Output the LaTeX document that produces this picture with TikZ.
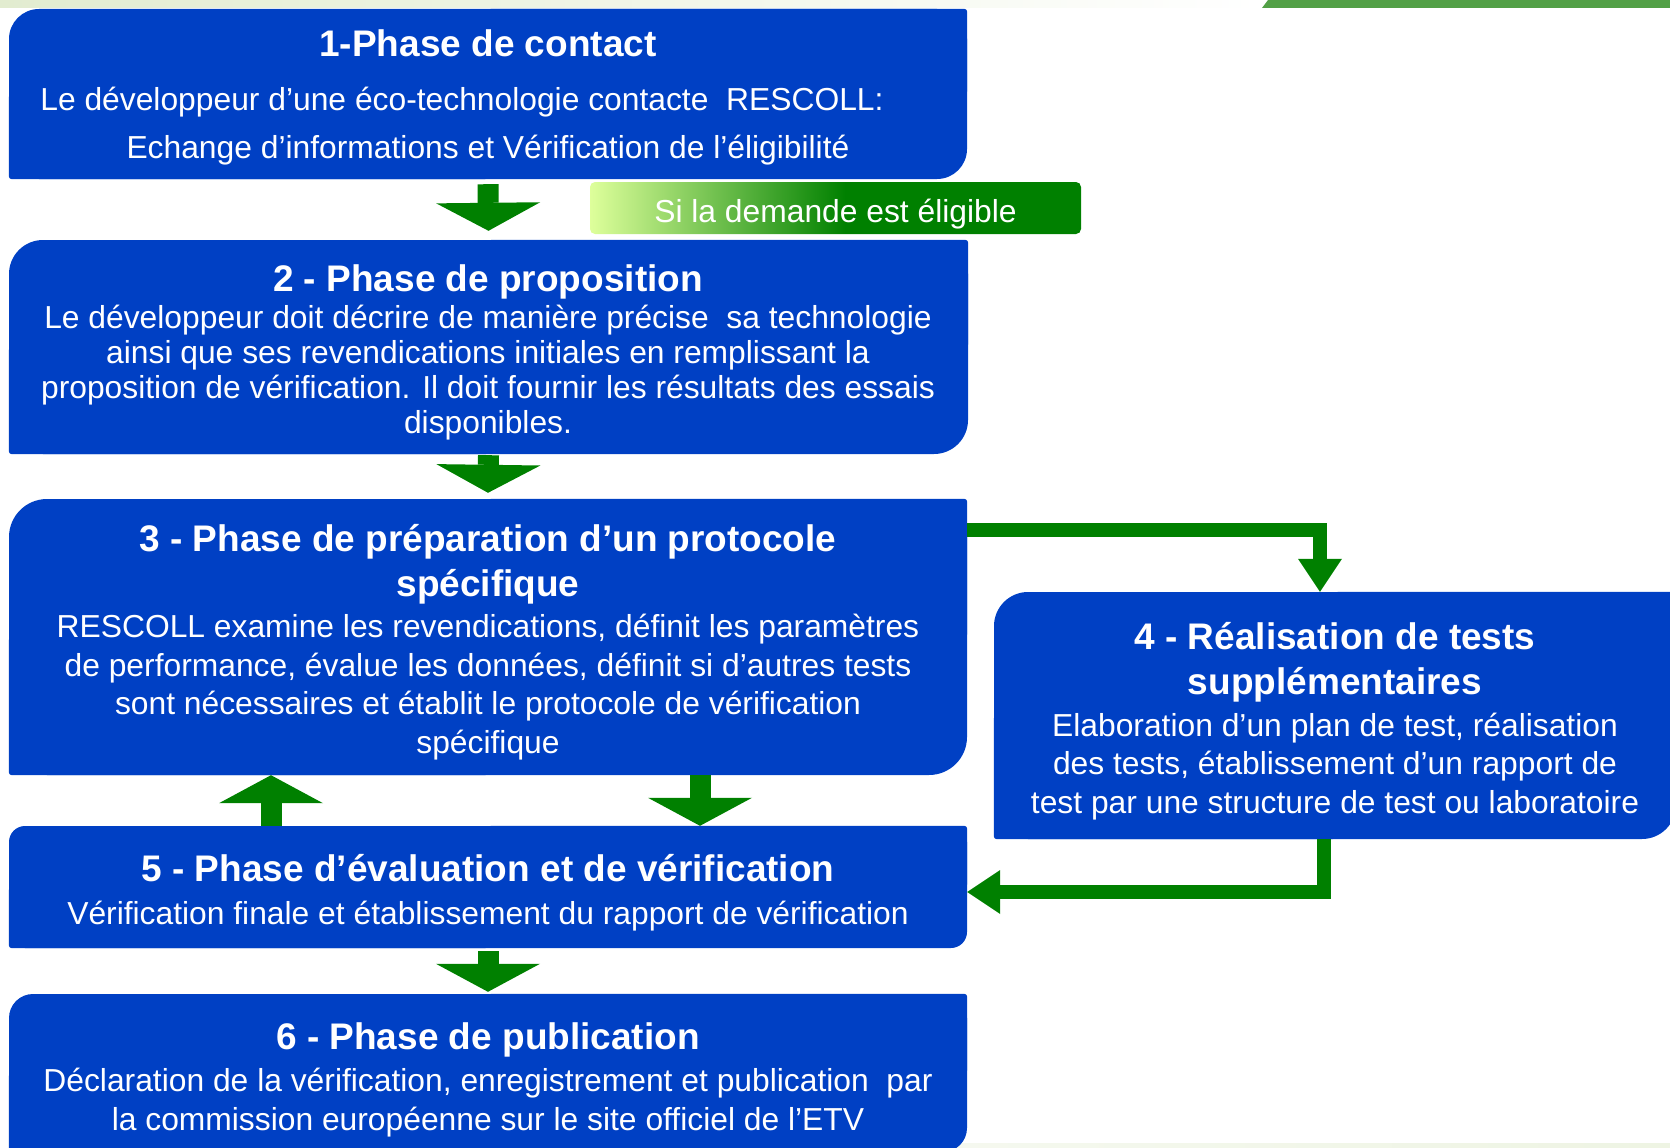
\documentclass[tikz,border=0pt]{standalone}
\usepackage{fontspec}
\setmainfont{Liberation Sans}
\definecolor{etvblue}{RGB}{0,64,196}
\definecolor{etvgreen}{RGB}{0,128,0}
\definecolor{etvlight}{RGB}{222,255,155}
\definecolor{bandlight}{RGB}{226,236,208}
\definecolor{banddark}{RGB}{82,160,70}
\usetikzlibrary{arrows.meta}
\pgfdeclarehorizontalshading{eligshade}{100bp}{color(0bp)=(etvlight); color(25bp)=(etvlight); color(51bp)=(etvgreen); color(100bp)=(etvgreen)}
\newcommand{\phtitle}[1]{{\bfseries\fontsize{37}{45}\selectfont #1}}

\begin{document}
\begin{tikzpicture}[x=1pt,y=-1pt,
    phase/.style={fill=etvblue, inner sep=0pt},
    txt/.style={text=white, align=center, inner sep=0pt, font=\fontsize{31.8}{38.5}\selectfont},
    elig/.style={shade, shading=eligshade, rounded corners=5pt, inner sep=0pt,
      minimum width=491pt, minimum height=52pt, text height=33pt, text depth=5pt,
      text=white, font=\fontsize{31.8}{38.5}\selectfont},
    blk/.style={etvgreen, line width=21pt, -{Triangle[width=104pt,length=28pt,line width=0pt]}},
    conn/.style={etvgreen, line width=13.5pt, -{Triangle[width=44pt,length=33pt,line width=0pt]}}
  ]
  \useasboundingbox (0,0) rectangle (1670,1148);

  % slide bands
  \shade[left color=bandlight, right color=white] (0,0) rectangle (1262,8);
  \fill[banddark] (1262,8) -- (1268,0) -- (1670,0) -- (1670,8) -- cycle;
  \shade[left color=white, right color=bandlight!60] (0,1143) rectangle (1670,1148);

  \node[phase, minimum width=958pt, minimum height=170pt, rounded corners=30pt] (p1) at (488,94) {};
  \node[phase, minimum width=959pt, minimum height=214pt, rounded corners=34pt] (p2) at (488.5,347) {};
  \node[phase, minimum width=958pt, minimum height=276pt, rounded corners=38pt] (p3) at (488,637) {};
  \node[phase, minimum width=682pt, minimum height=247pt, rounded corners=34pt] (p4) at (1335,715.5) {};
  \node[phase, minimum width=958pt, minimum height=122pt, rounded corners=16pt] (p5) at (488,887) {};
  \node[phase, minimum width=958pt, minimum height=158pt, rounded corners=24pt] (p6) at (488,1073) {};

  % small corners top right and bottom left
  \foreach \n in {p1,p2,p3,p4,p5,p6} {
    \fill[etvblue, rounded corners=3pt] (\n.north) rectangle (\n.east);
    \fill[etvblue, rounded corners=3pt] (\n.west) rectangle (\n.south);
  }

  \node[txt] (t1) at (488,97) {\phtitle{1-Phase de contact}\\[15.5pt]
    Le développeur d’une éco-technologie contacte~ RESCOLL:\rule{52pt}{0pt}\\[9.5pt]
    Echange d’informations et Vérification de l’éligibilité};
  \node[txt, font=\fontsize{31.8}{35}\selectfont] (t2) at (488,352.4) {\phtitle{2 - Phase de proposition}\\[2pt]
    Le développeur doit décrire de manière précise~ sa technologie\\
    ainsi que ses revendications initiales en remplissant la\\
    proposition de vérification. Il doit fournir les résultats des essais\\
    disponibles.};
  \node[txt] (t3) at (488,642) {\phtitle{3 - Phase de préparation d’un protocole}\\[6.5pt]
    \phtitle{spécifique}\\[2.5pt]
    RESCOLL examine les revendications, définit les paramètres\\
    de performance, évalue les données, définit si d’autres tests\\
    sont nécessaires et établit le protocole de vérification\\
    spécifique};
  \node[txt] (t4) at (1335,721) {\phtitle{4 - Réalisation de tests}\\[6.5pt]
    \phtitle{supplémentaires}\\[3.5pt]
    Elaboration d’un plan de test, réalisation\\
    des tests, établissement d’un rapport de\\
    test par une structure de test ou laboratoire};
  \node[txt] (t5) at (488,893) {\phtitle{5 - Phase d’évaluation et de vérification}\\[4.5pt]
    Vérification finale et établissement du rapport de vérification};
  \node[txt] (t6) at (488,1080) {\phtitle{6 - Phase de publication}\\[3.5pt]
    Déclaration de la vérification, enregistrement et publication~ par\\
    la commission européenne sur le site officiel de l’ETV};

  \node[elig] (cond) at (835.5,208) {Si la demande est éligible};

  \draw[blk] ([yshift=-5pt]p1.south) -- ([yshift=9pt]p2.north);
  \draw[blk] ([yshift=-1pt]p2.south) -- ([yshift=6pt]p3.north);
  \draw[blk] ([xshift=212pt]p3.south) -- ([xshift=212pt]p5.north);
  \draw[blk] ([xshift=-217pt]p5.north) -- ([xshift=-217pt]p3.south);
  \draw[blk] ([yshift=-3pt]p5.south) -- ([yshift=2pt]p6.north);

  % side loop through phase 4
  \draw[conn] ([yshift=-31pt]p3.north east) -| ([xshift=-15pt]p4.north);
  \draw[conn] ([xshift=-11pt]p4.south) |- ([yshift=-5pt]p5.east);
\end{tikzpicture}
\end{document}
